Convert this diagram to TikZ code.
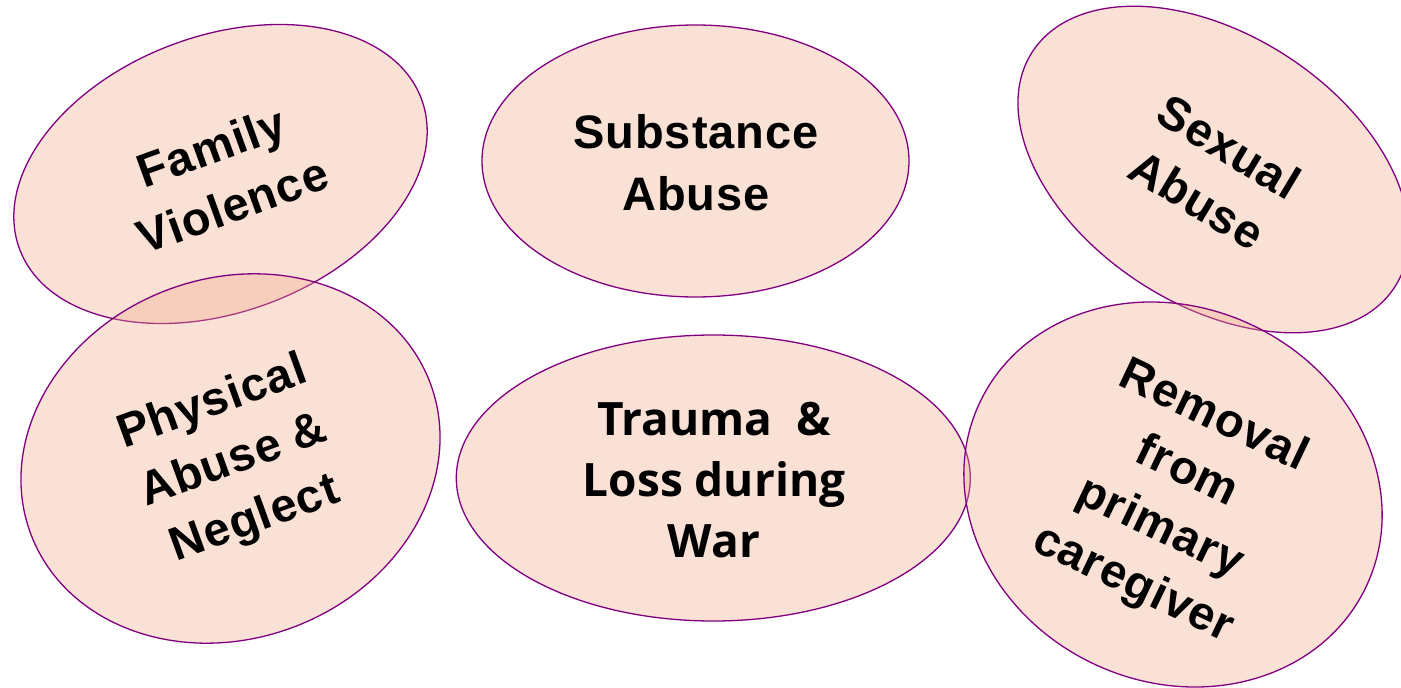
\documentclass[tikz,border=0pt]{standalone}
\usepackage{fontspec}
\setmainfont{Liberation Sans}[LetterSpace=2]
\newfontfamily\warfont{Open Sans}
\usetikzlibrary{shapes.geometric}
\definecolor{blobfill}{RGB}{241,169,138}
\definecolor{blobline}{RGB}{128,0,128}
\begin{document}
\begin{tikzpicture}[x=1pt,y=-1pt,
  blob/.style={ellipse, draw=blobline, line width=1.3pt, fill=blobfill,
    fill opacity=0.35, draw opacity=1, inner sep=0pt, outer sep=0pt},
  lbl/.style={align=center, text=black, inner sep=0pt,
    font=\fontsize{47}{62}\selectfont\bfseries},
  warlbl/.style={align=center, text=black, inner sep=0pt,
    font=\warfont\fontsize{46}{61}\selectfont\bfseries}]
\useasboundingbox (0,0) rectangle (1401,688);

% the six translucent ellipses
\node[blob, minimum width=429pt, minimum height=276pt, rotate=20.5] (family) at (220.5,174) {};
\node[blob, minimum width=427pt, minimum height=272pt] (substance) at (695.5,161) {};
\node[blob, minimum width=432pt, minimum height=270pt, rotate=-33] (sexual) at (1213.5,169.5) {};
\node[blob, minimum width=427pt, minimum height=360pt, rotate=21] (physical) at (230.5,458.5) {};
\node[blob, minimum width=514pt, minimum height=286pt] (trauma) at (713.3,478) {};
\node[blob, minimum width=428pt, minimum height=374pt, rotate=-26] (removal) at (1173,494.5) {};

% labels
\node[lbl, rotate=20] (familytext) at (222,176) {Family\\Violence};
\node[lbl] (substancetext) at (696,163) {Substance\\Abuse};
\node[lbl, rotate=-31] (sexualtext) at (1213,173) {Sexual\\Abuse};
\node[lbl, rotate=20] (physicaltext) at (234,462) {Physical\\Abuse \&\\Neglect};
\node[warlbl] (traumatext) at (714,480) {Trauma\ \ \&\\Loss during\\War};
\node[lbl, rotate=-25.5] (removaltext) at (1173,501) {Removal\\from\\primary\\caregiver};
\end{tikzpicture}
\end{document}
